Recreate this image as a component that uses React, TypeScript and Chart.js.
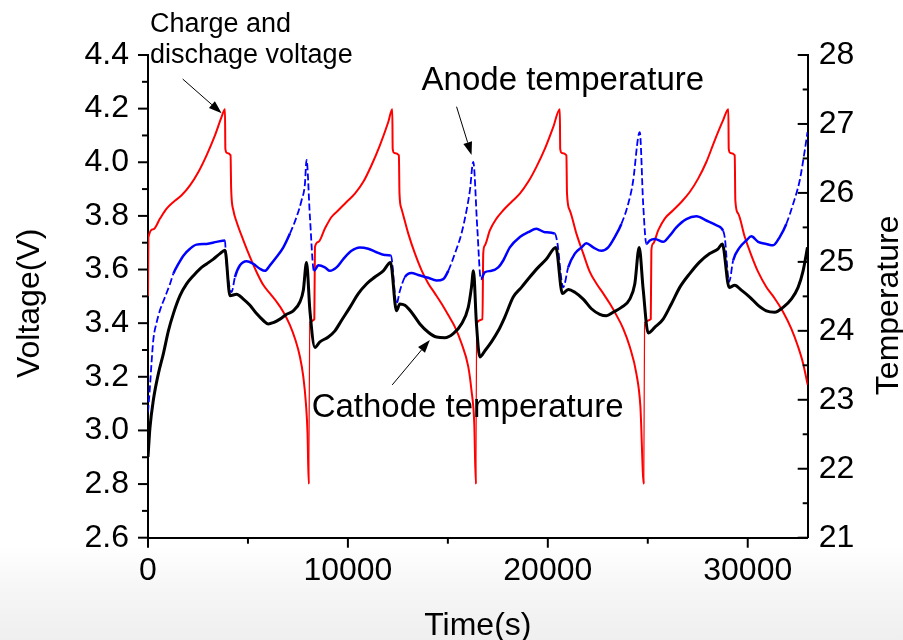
import React, { useEffect, useRef } from "react";
import { Chart, registerables } from "chart.js";

Chart.register(...registerables);

// ---------- tick values ----------
const timeTicks = [0, 10000, 20000, 30000];
const timeMinorTicks = [5000, 15000, 25000];
const voltageTicks = [2.6, 2.8, 3.0, 3.2, 3.4, 3.6, 3.8, 4.0, 4.2, 4.4];
const voltageMinorTicks = [2.7, 2.9, 3.1, 3.3, 3.5, 3.7, 3.9, 4.1, 4.3];
const temperatureTicks = [21, 22, 23, 24, 25, 26, 27, 28];
const temperatureMinorTicks = [21.5, 22.5, 23.5, 24.5, 25.5, 26.5, 27.5];

// ---------- charge / discharge voltage (V) ----------
const voltageTime = [
  0, 20, 270, 600, 930, 1270, 1680, 2100, 2520, 2930, 3350, 3680, 3850, 3870, 3950, 4130, 4160, 4270, 4430, 4770,
  5100, 5430, 5770, 6100, 6430, 6770, 7100, 7350, 7600, 7770, 7900, 7980, 8040,
  8090, 8320, 8350, 8520, 8850, 9180, 9520, 9930, 10350, 10770, 11180, 11600, 12020, 12220, 12240, 12320, 12550,
  12580, 12680, 13020, 13350, 13680, 14020, 14350, 14680, 15020, 15350, 15680, 16020, 16180, 16320, 16400,
  16440, 16730, 16770, 16850, 17100, 17430, 17770, 18180, 18600, 19020, 19430, 19850, 20270, 20600, 20620, 20700,
  20930, 20960, 21100, 21430, 21770, 22100, 22430, 22770, 23100, 23430, 23770, 24100, 24430, 24630, 24800,
  24840, 25150, 25180, 25270, 25520, 25850, 26270, 26680, 27100, 27520, 27930, 28350, 28770, 29030, 29050, 29130,
  29350, 29380, 29520, 29850, 30180, 30520, 30930, 31350, 31770, 32180, 32520, 32770, 33000,
];
const voltageValue = [
  3.5, 3.72, 3.75, 3.79, 3.827, 3.852, 3.877, 3.914, 3.964, 4.026, 4.1, 4.169, 4.198, 4.05, 4.035, 4.026, 3.9, 3.821, 3.778, 3.709,
  3.647, 3.591, 3.542, 3.511, 3.48, 3.442, 3.393, 3.343, 3.275, 3.2, 3.1, 2.99, 2.8,
  3.4, 3.415, 3.684, 3.703, 3.753, 3.796, 3.821, 3.852, 3.883, 3.927, 3.989, 4.063, 4.15, 4.198, 4.05, 4.035, 4.026,
  3.883, 3.827, 3.734, 3.66, 3.598, 3.548, 3.511, 3.473, 3.43, 3.386, 3.325, 3.238, 3.15, 3.027, 2.8,
  3.4, 3.415, 3.66, 3.69, 3.746, 3.79, 3.821, 3.852, 3.883, 3.927, 3.983, 4.05, 4.131, 4.198, 4.05, 4.035,
  4.026, 3.883, 3.821, 3.734, 3.66, 3.591, 3.548, 3.511, 3.473, 3.43, 3.38, 3.312, 3.212, 3.09, 2.8,
  3.4, 3.415, 3.672, 3.697, 3.746, 3.79, 3.821, 3.852, 3.889, 3.939, 4.001, 4.082, 4.157, 4.198, 4.05, 4.035,
  4.026, 3.858, 3.809, 3.722, 3.653, 3.591, 3.535, 3.492, 3.442, 3.38, 3.312, 3.25, 3.17,
];

// ---------- anode temperature (°C) ----------
const anodeTime = [
  0, 100, 180, 270, 430, 600, 850, 1100, 1270, 1520, 1770, 2100, 2430, 2930, 3430, 3850, 3900, 4180, 4350, 4600,
  4930, 5270, 5600, 5850, 6100, 6430, 6770, 7100, 7430, 7680, 7850, 7930, 8100, 8300,
  8520, 8850, 9100, 9430, 9770, 10180, 10600, 11020, 11430, 11850, 12150, 12430, 12600, 12850, 13180, 13520,
  14020, 14430, 14770, 15020, 15350, 15680, 15930, 16100, 16270, 16470, 16650,
  16850, 17180, 17520, 17770, 18100, 18600, 19020, 19430, 19850, 20350, 20470, 20770, 21020, 21350, 21680, 21930,
  22270, 22680, 23020, 23350, 23680, 24020, 24270, 24520, 24600, 24770, 24930,
  25100, 25350, 25770, 26100, 26430, 26930, 27430, 27930, 28430, 28770, 28850, 29070, 29270, 29600, 29930, 30180,
  30520, 30930, 31270, 31600, 31930, 32270, 32600, 32850, 32990,
];
const anodeTemp = [
  22.82, 23.2, 23.55, 23.88, 24.12, 24.3, 24.49, 24.68, 24.83, 24.97, 25.09, 25.19, 25.25, 25.26, 25.29, 25.31, 25.07, 24.56, 24.78, 24.95,
  25.01, 24.97, 24.9, 24.87, 24.95, 25.07, 25.21, 25.41, 25.65, 25.89, 26.13, 26.48, 25.65, 24.87,
  24.95, 24.92, 24.87, 24.92, 25.04, 25.16, 25.21, 25.19, 25.14, 25.1, 25.09, 24.39, 24.58, 24.78, 24.84, 24.81,
  24.77, 24.73, 24.75, 24.87, 25.12, 25.41, 25.74, 26.03, 26.45, 25.5, 24.75,
  24.85, 24.87, 24.92, 25.02, 25.21, 25.36, 25.43, 25.48, 25.43, 25.41, 25.29, 24.63, 24.92, 25.12, 25.21, 25.27,
  25.21, 25.16, 25.21, 25.36, 25.55, 25.84, 26.18, 26.81, 26.88, 25.84, 25.26,
  25.31, 25.33, 25.29, 25.38, 25.5, 25.62, 25.66, 25.6, 25.53, 25.45, 25.36, 24.71, 25.02, 25.21, 25.31, 25.37,
  25.29, 25.26, 25.24, 25.36, 25.55, 25.84, 26.18, 26.61, 26.88,
];

// ---------- cathode temperature (°C) ----------
const cathodeTime = [
  0, 100, 270, 520, 770, 1020, 1270, 1600, 1930, 2270, 2600, 2930, 3270, 3600, 3850, 4100, 4430, 4770, 5100, 5430,
  5770, 6020, 6270, 6600, 6930, 7270, 7600, 7770, 7930, 8100, 8350,
  8600, 9020, 9350, 9680, 10100, 10520, 10930, 11350, 11770, 12130, 12430, 12600, 12850, 13180, 13600, 14020,
  14430, 14850, 15270, 15680, 16020, 16180, 16280, 16430, 16600,
  16850, 17180, 17520, 17850, 18270, 18680, 19100, 19520, 19930, 20400, 20730, 21020, 21350, 21770, 22180, 22600,
  22930, 23270, 23680, 24100, 24350, 24570, 24770, 25020,
  25350, 25770, 26180, 26600, 27100, 27600, 28100, 28520, 28730, 29070, 29350, 29680, 30100, 30520, 30930, 31350,
  31770, 32180, 32520, 32770, 32990,
];
const cathodeTemp = [
  22.17, 22.6, 23.0, 23.38, 23.67, 24.0, 24.25, 24.51, 24.68, 24.8, 24.9, 24.97, 25.04, 25.12, 25.17, 24.51, 24.53, 24.46, 24.37, 24.25,
  24.15, 24.1, 24.12, 24.17, 24.24, 24.29, 24.42, 24.59, 24.99, 24.29, 23.76,
  23.84, 23.91, 24.0, 24.15, 24.34, 24.54, 24.68, 24.78, 24.87, 24.99, 24.29, 24.39, 24.37, 24.27, 24.1, 23.98,
  23.91, 23.9, 23.96, 24.1, 24.34, 24.63, 24.87, 24.1, 23.62,
  23.71, 23.84, 24.0, 24.2, 24.49, 24.63, 24.78, 24.92, 25.04, 25.21, 24.54, 24.6, 24.56, 24.46, 24.32, 24.24,
  24.22, 24.27, 24.34, 24.46, 24.68, 25.21, 24.6, 23.97,
  24.05, 24.17, 24.39, 24.63, 24.83, 25.0, 25.12, 25.19, 25.26, 24.63, 24.66, 24.59, 24.49, 24.37, 24.29, 24.27,
  24.34, 24.46, 24.63, 24.87, 25.21,
];

// ---------- annotations (anchored in time / voltage coordinates) ----------
const annotationTexts = [
  { text: "Charge and", t: 100, v: 4.487, size: 27 },
  { text: "dischage voltage", t: 100, v: 4.369, size: 27 },
  { text: "Anode temperature", t: 13685, v: 4.2695, size: 33 },
  { text: "Cathode temperature", t: 8185, v: 3.049, size: 33 },
];
const annotationArrows = [
  { t0: 1735, v0: 4.3105, t1: 3685, v1: 4.1826 },
  { t0: 15435, v0: 4.2072, t1: 16185, v1: 4.027 },
  { t0: 12215, v0: 3.1696, t1: 14100, v1: 3.3373 },
];

const FONT = "'Liberation Sans', Arial, Helvetica, sans-serif";

const toPoints = (xs: number[], ys: number[]) => xs.map((x, i) => ({ x, y: ys[i] }));

const decorPlugin = {
  id: "decor",
  afterDraw(chart: any) {
    const { ctx, scales } = chart;
    const xs = scales.x;
    const yv = scales.y;
    const yt = scales.y1;
    ctx.save();
    ctx.strokeStyle = "#000";
    ctx.fillStyle = "#000";
    ctx.lineWidth = 2;
    ctx.lineCap = "butt";

    const line = (x0: number, y0: number, x1: number, y1: number) => {
      ctx.beginPath();
      ctx.moveTo(x0, y0);
      ctx.lineTo(x1, y1);
      ctx.stroke();
    };

    // left axis ticks (outward)
    voltageTicks.forEach((v) => {
      const p = yv.getPixelForValue(v);
      line(yv.right, p, yv.right - 10, p);
    });
    voltageMinorTicks.forEach((v) => {
      const p = yv.getPixelForValue(v);
      line(yv.right, p, yv.right - 6, p);
    });
    // right axis ticks (inward)
    temperatureTicks.forEach((v) => {
      const p = yt.getPixelForValue(v);
      line(yt.left, p, yt.left - 10, p);
    });
    temperatureMinorTicks.forEach((v) => {
      const p = yt.getPixelForValue(v);
      line(yt.left, p, yt.left - 5, p);
    });
    // bottom axis ticks (outward)
    timeTicks.forEach((t) => {
      const p = xs.getPixelForValue(t);
      line(p, xs.top, p, xs.top + 10);
    });
    timeMinorTicks.forEach((t) => {
      const p = xs.getPixelForValue(t);
      line(p, xs.top, p, xs.top + 6);
    });

    // axis titles
    ctx.font = `32px ${FONT}`;
    ctx.textBaseline = "alphabetic";
    ctx.textAlign = "center";
    const midY = (chart.chartArea.top + chart.chartArea.bottom) / 2;
    ctx.fillText("Time(s)", (chart.chartArea.left + chart.chartArea.right) / 2, 635);
    ctx.save();
    ctx.translate(39, midY + 7);
    ctx.rotate(-Math.PI / 2);
    ctx.fillText("Voltage(V)", 0, 0);
    ctx.restore();
    ctx.save();
    ctx.translate(898, midY + 9);
    ctx.rotate(-Math.PI / 2);
    ctx.fillText("Temperature", 0, 0);
    ctx.restore();

    // annotation texts
    ctx.textAlign = "left";
    annotationTexts.forEach((a) => {
      ctx.font = `${a.size}px ${FONT}`;
      ctx.fillText(a.text, xs.getPixelForValue(a.t), yv.getPixelForValue(a.v));
    });

    // arrows
    ctx.lineWidth = 1;
    annotationArrows.forEach((a) => {
      const x0 = xs.getPixelForValue(a.t0);
      const y0 = yv.getPixelForValue(a.v0);
      const x1 = xs.getPixelForValue(a.t1);
      const y1 = yv.getPixelForValue(a.v1);
      const ang = Math.atan2(y1 - y0, x1 - x0);
      const len = 13;
      const hw = 4.5;
      const bx = x1 - len * Math.cos(ang);
      const by = y1 - len * Math.sin(ang);
      line(x0, y0, bx, by);
      ctx.beginPath();
      ctx.moveTo(x1, y1);
      ctx.lineTo(bx + hw * Math.sin(ang), by - hw * Math.cos(ang));
      ctx.lineTo(bx - hw * Math.sin(ang), by + hw * Math.cos(ang));
      ctx.closePath();
      ctx.fill();
    });
    ctx.restore();
  },
};

const steep = (c: any, ratio: number) => {
  const dx = Math.abs(c.p1.x - c.p0.x);
  const dy = Math.abs(c.p1.y - c.p0.y);
  return dy > dx * ratio;
};

export default function App() {
  const canvasRef = useRef<HTMLCanvasElement | null>(null);

  useEffect(() => {
    if (!canvasRef.current) return;
    const tickFont = { family: FONT, size: 32 };
    const chart = new Chart(canvasRef.current, {
      type: "line",
      data: {
        datasets: [
          {
            label: "Cathode temperature",
            data: toPoints(cathodeTime, cathodeTemp),
            yAxisID: "y1",
            borderColor: "#000000",
            borderWidth: 3,
            pointRadius: 0,
            cubicInterpolationMode: "monotone",
            fill: false,
          },
          {
            label: "Anode temperature",
            data: toPoints(anodeTime, anodeTemp),
            yAxisID: "y1",
            borderColor: "#0000ff",
            borderWidth: 2.5,
            pointRadius: 0,
            cubicInterpolationMode: "monotone",
            fill: false,
            segment: {
              borderDash: (c: any) => (steep(c, 2.5) ? [7, 3] : undefined),
              borderWidth: (c: any) => (steep(c, 2.5) ? 1.8 : undefined),
            },
          },
          {
            label: "Charge and dischage voltage",
            data: toPoints(voltageTime, voltageValue),
            yAxisID: "y",
            borderColor: "#ff0000",
            borderWidth: 2,
            pointRadius: 0,
            cubicInterpolationMode: "monotone",
            fill: false,
            segment: {
              borderWidth: (c: any) => (c.p0.y - c.p1.y > 100 ? 1.2 : undefined),
            },
          },
        ],
      },
      options: {
        responsive: false,
        animation: false,
        devicePixelRatio: 1,
        layout: { padding: { top: 55, left: 0, right: 0, bottom: 0 } },
        plugins: {
          legend: { display: false },
          tooltip: { enabled: false },
          title: { display: false },
        },
        scales: {
          x: {
            type: "linear",
            position: "bottom",
            min: 0,
            max: 33000,
            afterBuildTicks: (s: any) => {
              s.ticks = timeTicks.map((value) => ({ value }));
            },
            afterFit: (s: any) => {
              s.height = 102.3;
            },
            ticks: {
              font: tickFont,
              color: "#000",
              padding: 14,
              maxRotation: 0,
              autoSkip: false,
              includeBounds: false,
              callback: (v: any) => String(v),
            },
            grid: { display: false, drawTicks: false },
            border: { display: true, color: "#000", width: 2 },
          },
          y: {
            type: "linear",
            position: "left",
            min: 2.6,
            max: 4.4,
            afterBuildTicks: (s: any) => {
              s.ticks = voltageTicks.map((value) => ({ value }));
            },
            afterFit: (s: any) => {
              s.width = 148;
            },
            ticks: {
              font: tickFont,
              color: "#000",
              padding: 19,
              autoSkip: false,
              callback: (v: any) => Number(v).toFixed(1),
            },
            grid: { display: false, drawTicks: false },
            border: { display: true, color: "#000", width: 2 },
          },
          y1: {
            type: "linear",
            position: "right",
            min: 21,
            max: 28,
            afterBuildTicks: (s: any) => {
              s.ticks = temperatureTicks.map((value) => ({ value }));
            },
            afterFit: (s: any) => {
              s.width = 95.3;
            },
            ticks: {
              font: tickFont,
              color: "#000",
              padding: 11,
              autoSkip: false,
              callback: (v: any) => String(v),
            },
            grid: { display: false, drawTicks: false },
            border: { display: true, color: "#000", width: 2 },
          },
        },
      },
      plugins: [decorPlugin],
    } as any);
    return () => chart.destroy();
  }, []);

  return (
    <div
      style={{
        position: "fixed",
        left: 0,
        top: 0,
        width: 903,
        height: 640,
        background: "linear-gradient(to bottom, #ffffff 0px, #ffffff 545px, #f6f6f6 590px, #efefef 640px)",
      }}
    >
      <canvas ref={canvasRef} width={903} height={640} style={{ width: 903, height: 640, display: "block" }} />
    </div>
  );
}
